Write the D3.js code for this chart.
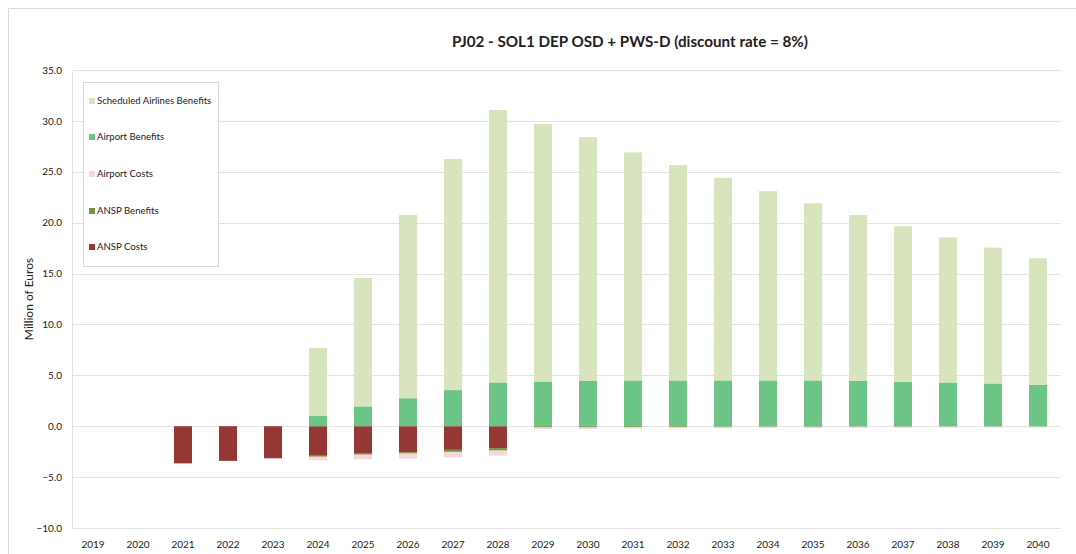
<!DOCTYPE html>
<html><head><meta charset="utf-8">
<script src="https://cdn.jsdelivr.net/npm/d3@7"></script>
<style>body{margin:0;background:#fff}svg{display:block}text{font-family:Lato,"Open Sans",sans-serif;fill:#222}</style>
</head><body><svg id="c" width="1076" height="554"></svg>
<script>
const years = ["2019","2020","2021","2022","2023","2024","2025","2026","2027","2028","2029","2030","2031","2032","2033","2034","2035","2036","2037","2038","2039","2040"];
const anspCosts      = [0,0,-3.65,-3.4,-3.15,-2.9,-2.7,-2.55,-2.32,-2.15,0,0,0,0,0,0,0,0,0,0,0,0];
const anspBenefits   = [0,0,0,0,0,-0.1,-0.1,-0.14,-0.2,-0.24,-0.12,-0.12,-0.08,-0.07,-0.06,-0.05,-0.05,-0.04,-0.04,-0.03,-0.03,-0.03];
const airportCosts   = [0,0,0,0,0,-0.35,-0.45,-0.5,-0.55,-0.5,-0.15,-0.15,-0.15,-0.14,-0.14,-0.13,-0.13,-0.12,-0.12,-0.11,-0.11,-0.1];
const airportBenefits= [0,0,0,0,0,1.0,1.95,2.75,3.55,4.3,4.4,4.45,4.5,4.5,4.5,4.5,4.5,4.45,4.35,4.3,4.2,4.05];
const airlineBenefits= [0,0,0,0,0,6.7,12.6,18.0,22.7,26.77,25.3,23.95,22.4,21.15,19.9,18.6,17.4,16.3,15.3,14.25,13.35,12.45];
const seriesNames = ["ANSP Costs","ANSP Benefits","Airport Costs","Airport Benefits","Scheduled Airlines Benefits"];
const seriesColors = ["#953735","#77933c","#f6d7da","#6cc486","#d7e4bd"];
const yTicks = [-10,-5,0,5,10,15,20,25,30,35];
const title = "PJ02 - SOL1 DEP OSD + PWS-D (discount rate = 8%)";
const yTitle = "Million of Euros";

const seriesData = [anspCosts, anspBenefits, airportCosts, airportBenefits, airlineBenefits];
const rows = years.map((y,i)=>{const r={year:y}; seriesNames.forEach((n,k)=>r[n]=seriesData[k][i]); return r;});

const svg = d3.select("#c");
svg.append("path").attr("d","M8.5,554 V8.5 H1076").attr("fill","none").attr("stroke","#d9d9d9");

const x = d3.scaleBand().domain(years).range([70.5,1060.5]).paddingInner(0.6).paddingOuter(0.3);
const y = d3.scaleLinear().domain([-10,35]).range([528,70]);

svg.append("g").selectAll("line").data(yTicks).join("line")
  .attr("x1",72).attr("x2",1061).attr("y1",d=>Math.round(y(d))+0.5).attr("y2",d=>Math.round(y(d))+0.5)
  .attr("stroke","#e3e3e3").attr("stroke-width",1);
svg.append("line").attr("x1",72.5).attr("x2",72.5).attr("y1",y(35)).attr("y2",y(-10)).attr("stroke","#e3e3e3");

const yAxis = d3.axisLeft(y).tickValues(yTicks).tickFormat(d3.format(".1f")).tickSize(0).tickPadding(10);
const gy = svg.append("g").attr("transform","translate(72,0)").call(yAxis);
gy.select(".domain").remove();
gy.selectAll("text").style("font-size","10px").attr("fill","#333");

const xAxis = d3.axisBottom(x).tickSize(0).tickPadding(10);
const gx = svg.append("g").attr("transform","translate(0,531)").call(xAxis);
gx.select(".domain").remove();
gx.selectAll("text").style("font-size","10px").attr("fill","#333");

const stack = d3.stack().keys(seriesNames).offset(d3.stackOffsetDiverging);
const stacked = stack(rows);
svg.append("g").selectAll("g").data(stacked).join("g")
  .attr("fill",(d,i)=>seriesColors[i])
  .selectAll("rect").data(d=>d).join("rect")
  .attr("x",d=>x(d.data.year)).attr("width",x.bandwidth())
  .attr("y",d=>y(Math.max(d[0],d[1]))).attr("height",d=>Math.abs(y(d[0])-y(d[1])));

svg.append("text").attr("x",630).attr("y",47).attr("text-anchor","middle")
  .style("font-size","15.2px").style("font-weight","bold").attr("fill","#111").text(title);
svg.append("text").attr("transform","translate(33,299) rotate(-90)").attr("text-anchor","middle")
  .style("font-size","12px").attr("fill","#222").text(yTitle);

const lg = svg.append("g");
lg.append("rect").attr("x",83.5).attr("y",82.5).attr("width",135).attr("height",184)
  .attr("fill","#fff").attr("stroke","#d9d9d9");
const legendOrder = [4,3,2,1,0];
const legendY = [101,137,174,211,247];
legendOrder.forEach((k,i)=>{
  lg.append("rect").attr("x",89).attr("y",legendY[i]-3).attr("width",6).attr("height",6).attr("fill",seriesColors[k]);
  lg.append("text").attr("x",97).attr("y",legendY[i]+3).style("font-size","9.6px").attr("fill","#333").text(seriesNames[k]);
});
</script></body></html>
